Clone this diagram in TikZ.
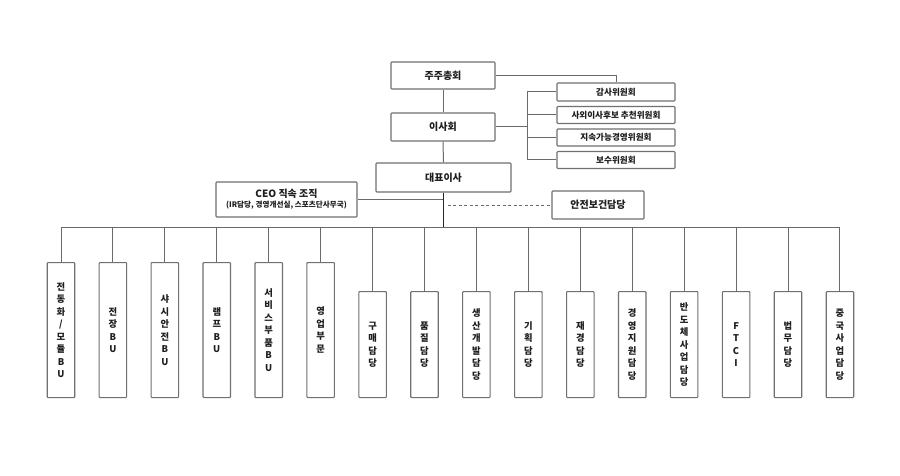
\documentclass[tikz,border=0pt]{standalone}
\usepackage{fontspec}
\setmainfont{Noto Sans CJK KR}
\begin{document}
\begin{tikzpicture}[x=1pt,y=-1pt,
  box/.style={draw=boxgray, line width=1.1pt, rounded corners=0.8pt, inner sep=0pt, fill=white,
    text=textdark, font=\bfseries\fontsize{10}{12}\selectfont, align=center},
  cbox/.style={box, minimum width=118, minimum height=17, font=\bfseries\fontsize{8.6}{10}\selectfont},
  vbox/.style={box, minimum width=27.5, anchor=north, font=\bfseries\fontsize{9.3}{12.5}\selectfont},
  link/.style={draw=linegray, line width=1pt},
  mainlink/.style={draw=black!85, line width=1.5pt}
]
\definecolor{boxgray}{HTML}{707070}
\definecolor{linegray}{HTML}{6A6A6A}
\definecolor{textdark}{HTML}{1E1E1E}
\useasboundingbox (0,0) rectangle (900,476);
\fill[white] (0,0) rectangle (900,476);

% top
\node[box, minimum width=104, minimum height=27] (ga) at (443,75.5) {주주총회};
\node[box, minimum width=104, minimum height=28] (bod) at (443,127) {이사회};
\node[cbox, minimum height=18] (c1) at (616,92) {감사위원회};
\node[cbox] (c2) at (616,115) {사외이사후보 추천위원회};
\node[cbox] (c3) at (616,137.5) {지속가능경영위원회};
\node[cbox] (c4) at (616,160) {보수위원회};
\node[box, minimum width=135, minimum height=29] (ceo) at (443.5,177.5) {대표이사};
\node[box, minimum width=141, minimum height=35] (org) at (286.5,199.5)
  {CEO 직속 조직\\[-2pt]{\fontsize{7.6}{8.5}\selectfont (IR담당, 경영개선실, 스포츠단사무국)}};
\node[box, minimum width=92, minimum height=28] (safety) at (598,205) {안전보건담당};

\coordinate (cb) at (527,127);
\coordinate (busL) at (61,227);
\coordinate (busR) at (840,227);
\coordinate (busC) at (443.5,227);

\draw[link] (ga.south) -- (bod.north);
\draw[link] (ga.east) -| (c1.north);
\draw[link] (bod.east) -- (cb);
\draw[link] (cb) |- (c1.west);
\draw[link] (cb) |- (c2.west);
\draw[link] (cb) |- (c3.west);
\draw[link] (cb) |- (c4.west);
\draw[link] (bod.south) -- (ceo.north);
\draw[link] (org.east) -- (org.east -| busC);
\draw[link, dashed, dash pattern=on 3pt off 2.5pt] ([xshift=4pt]busC |- safety.west) -- (safety.west);
\draw[link] (busL) -- (busR);
\draw[mainlink] (ceo.south) -- (busC);

% bottom boxes
\foreach \i/\h/\t in {
  0/135/{전\\동\\화\\/\\모\\듈\\B\\U},
  1/135/{전\\장\\B\\U},
  2/135/{샤\\시\\안\\전\\B\\U},
  3/135/{램\\프\\B\\U},
  4/135/{서\\비\\스\\부\\품\\B\\U},
  5/135/{영\\업\\부\\문},
  6/106/{구\\매\\담\\당},
  7/106/{품\\질\\담\\당},
  8/106/{생\\산\\개\\발\\담\\당},
  9/106/{기\\획\\담\\당},
  10/106/{재\\경\\담\\당},
  11/106/{경\\영\\지\\원\\담\\당},
  12/106/{반\\도\\체\\사\\업\\담\\당},
  13/106/{F\\T\\C\\I},
  14/106/{법\\무\\담\\당},
  15/106/{중\\국\\사\\업\\담\\당}} {
  \pgfmathsetmacro{\xx}{61+51.93*\i}
  \pgfmathsetmacro{\yy}{397-\h}
  \node[vbox, minimum height=\h] (b\i) at (\xx,\yy) {\t};
  \draw[link] (b\i.north |- busL) -- (b\i.north);
}
\end{tikzpicture}
\end{document}
